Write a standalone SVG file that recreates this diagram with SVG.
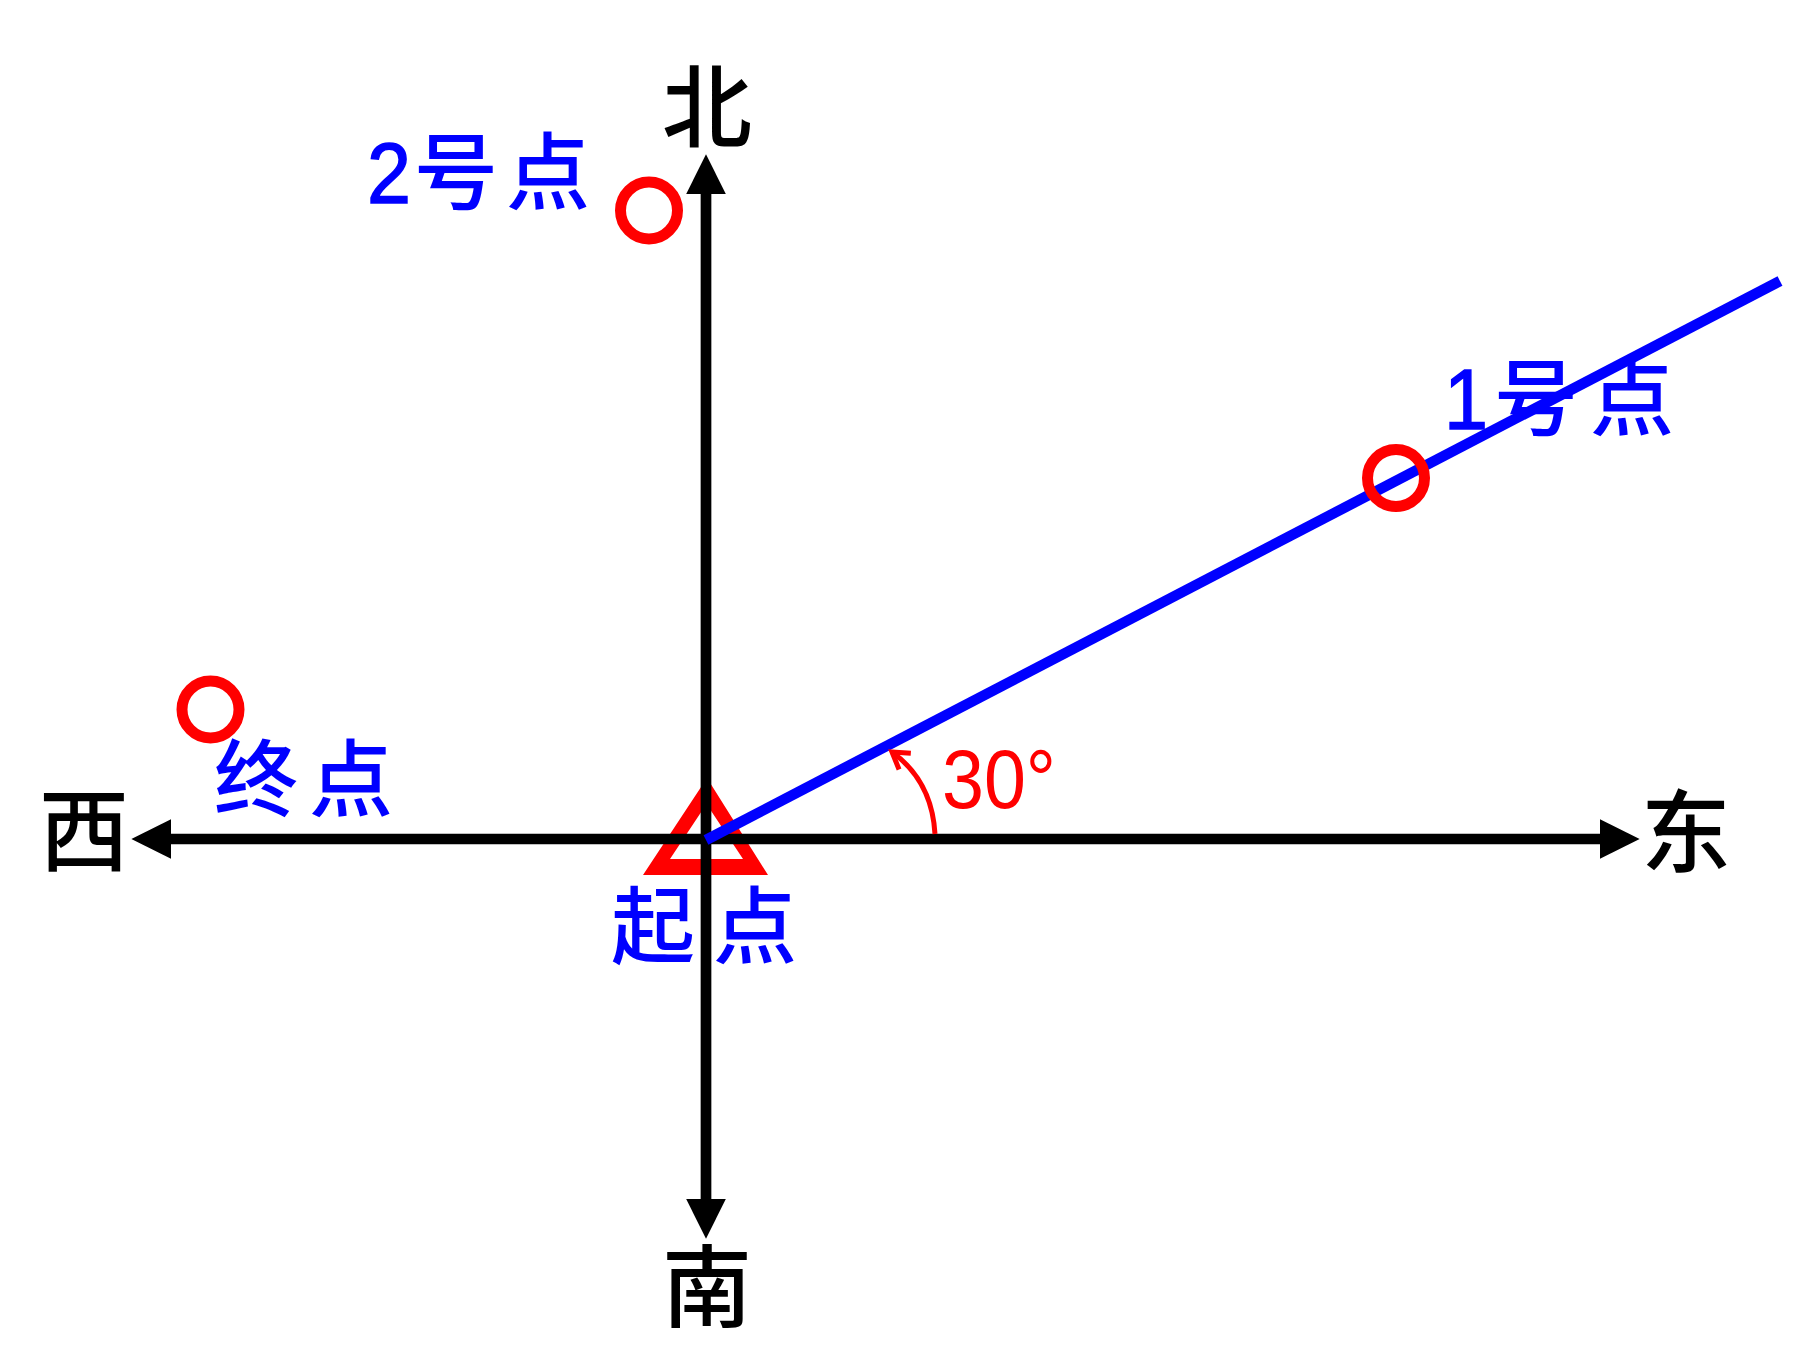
<svg xmlns="http://www.w3.org/2000/svg" width="1800" height="1350" viewBox="0 0 1800 1350">
<style>
.axis{stroke:#000;stroke-width:10.7;fill:none}
.dir{font-family:"Noto Sans CJK SC",sans-serif;font-size:90px;font-weight:500;fill:#000;text-anchor:middle}
.lbl{font-family:"Noto Sans CJK SC",sans-serif;font-size:84px;font-weight:500;fill:#0000ff}
.num{font-family:"Liberation Sans",sans-serif;font-size:86px;fill:#0000ff;stroke:#0000ff;stroke-width:1.5}
.pt{fill:none;stroke:#ff0000;stroke-width:11}
</style>
<defs>
<marker id="ah" markerUnits="userSpaceOnUse" markerWidth="40" markerHeight="40" viewBox="0 0 34 34" refX="2" refY="17" orient="auto-start-reverse">
<path d="M0,0 L34,17 L0,34 z" fill="#000"/>
</marker>
<marker id="rh" markerUnits="userSpaceOnUse" markerWidth="30" markerHeight="30" viewBox="0 0 30 30" refX="20" refY="15" orient="auto">
<path d="M4,5 L20,15 L4,25" fill="none" stroke="#ff0000" stroke-width="5"/>
</marker>
</defs>
<rect width="1800" height="1350" fill="#fff"/>
<g id="start">
<path d="M707,778 L768,875 L643,875 Z M706.5,804 L670,859 L743,859 Z" fill="#ff0000" fill-rule="evenodd"/>
<text class="lbl" x="611" y="957">起</text>
<text class="lbl" x="713" y="957">点</text>
</g>
<g id="connectors">
<line class="axis" x1="706" y1="1201" x2="706" y2="192" marker-start="url(#ah)" marker-end="url(#ah)"/>
<line class="axis" x1="169" y1="839" x2="1602" y2="839" marker-start="url(#ah)" marker-end="url(#ah)"/>
<line x1="706" y1="840" x2="1780" y2="281" stroke="#0000ff" stroke-width="10.5"/>
<path d="M935,834 Q932,781 892,752" fill="none" stroke="#ff0000" stroke-width="5" marker-end="url(#rh)"/>
</g>
<g id="north"><text class="dir" x="707" y="140">北</text></g>
<g id="south"><text class="dir" x="707" y="1320">南</text></g>
<g id="west"><text class="dir" x="84" y="864">西</text></g>
<g id="east"><text class="dir" x="1686" y="865">东</text></g>
<g id="angle"><text x="942" y="808" font-family="Liberation Sans, sans-serif" font-size="84" fill="#ff0000" textLength="114" lengthAdjust="spacingAndGlyphs">30°</text></g>
<g id="point1">
<circle class="pt" cx="1396" cy="478" r="28.5"/>
<text class="num" x="1444" y="429" textLength="44" lengthAdjust="spacingAndGlyphs">1</text>
<text class="lbl" x="1494" y="429">号</text>
<text class="lbl" x="1590" y="429">点</text>
</g>
<g id="point2">
<circle class="pt" cx="649" cy="210.5" r="28.5"/>
<text class="num" x="367" y="203" textLength="44" lengthAdjust="spacingAndGlyphs">2</text>
<text class="lbl" x="414" y="203">号</text>
<text class="lbl" x="506" y="203">点</text>
</g>
<g id="end">
<circle class="pt" cx="210.5" cy="709.5" r="28.5"/>
<text class="lbl" x="214" y="810">终</text>
<text class="lbl" x="309" y="810">点</text>
</g>
</svg>
